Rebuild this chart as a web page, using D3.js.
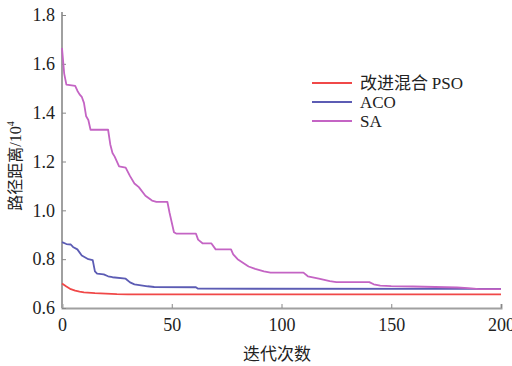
<!DOCTYPE html>
<html>
<head>
<meta charset="utf-8">
<script src="https://cdn.jsdelivr.net/npm/d3@7"></script>
<style>
  body { margin: 0; background: #fff; }
  svg text { font-family: "Liberation Serif", "Noto Sans CJK SC", serif; fill: #222; }
</style>
</head>
<body>
<div id="chart"></div>
<script>
// iteration -> path distance (x10^4), breakpoints
const psoData = [[0, 0.70], [2, 0.688], [4, 0.677], [6, 0.671], [8, 0.667], [10, 0.664], [15, 0.661], [20, 0.659], [25, 0.657], [30, 0.656], [200, 0.656]];
const acoData = [[0, 0.87], [2, 0.862], [4, 0.86], [5, 0.85], [7, 0.84], [9, 0.815], [10, 0.81], [12, 0.80], [14, 0.796], [15, 0.75], [16, 0.741], [19, 0.738], [21, 0.73], [23, 0.726], [29, 0.72], [31, 0.705], [33, 0.697], [36, 0.693], [39, 0.689], [42, 0.686], [61, 0.685], [62, 0.679], [200, 0.678]];
const saData = [[0, 1.665], [1, 1.56], [2, 1.515], [6, 1.51], [7, 1.49], [8, 1.475], [9, 1.465], [10, 1.44], [11, 1.385], [12, 1.37], [13, 1.33], [21, 1.33], [22, 1.27], [23, 1.235], [24, 1.22], [26, 1.18], [29, 1.175], [31, 1.14], [33, 1.11], [35, 1.095], [38, 1.06], [41, 1.04], [43, 1.035], [48, 1.035], [49, 0.99], [51, 0.91], [52, 0.905], [61, 0.905], [62, 0.88], [64, 0.865], [68, 0.865], [70, 0.84], [77, 0.84], [78, 0.82], [80, 0.80], [85, 0.77], [88, 0.76], [92, 0.75], [95, 0.745], [110, 0.745], [112, 0.73], [117, 0.72], [122, 0.71], [125, 0.706], [140, 0.706], [142, 0.697], [145, 0.692], [150, 0.69], [160, 0.688], [170, 0.686], [180, 0.684], [185, 0.681], [190, 0.677], [200, 0.677]];

const seriesNames = ["改进混合 PSO", "ACO", "SA"];
const seriesColors = ["#f04848", "#5c5cb4", "#c464c4"];
const xTicks = [0, 50, 100, 150, 200];
const yTicks = [0.6, 0.8, 1.0, 1.2, 1.4, 1.6, 1.8];

const width = 512, height = 366;
const margin = { top: 15, right: 11, bottom: 58, left: 62 };

const svg = d3.select("#chart").append("svg")
  .attr("width", width)
  .attr("height", height);

const x = d3.scaleLinear().domain([0, 200]).range([margin.left, width - margin.right]);
const y = d3.scaleLinear().domain([0.6, 1.8]).range([height - margin.bottom, margin.top]);

// axes, ticks point inward
const xAxis = d3.axisBottom(x).tickValues(xTicks).tickSize(-4).tickPadding(10).tickFormat(d3.format("d"));
const yAxis = d3.axisLeft(y).tickValues(yTicks).tickSize(-4).tickPadding(7).tickFormat(d3.format(".1f"));

const gx = svg.append("g")
  .attr("transform", `translate(0, ${height - margin.bottom})`)
  .call(xAxis);
const gy = svg.append("g")
  .attr("transform", `translate(${margin.left}, 0)`)
  .call(yAxis);

[gx, gy].forEach(g => {
  g.select(".domain").attr("stroke", "#a0a0a0").attr("stroke-width", 2);
  g.selectAll(".tick line").attr("stroke", "#888").attr("stroke-width", 1);
  g.selectAll(".tick text")
    .style("font-family", "Liberation Serif")
    .style("font-size", "18px")
    .attr("fill", "#222");
});
gy.select(".domain").attr("d", `M-0,${y(0.6)}V${margin.top - 3}`);

// lines
const line = d3.line().x(d => x(d[0])).y(d => y(d[1]));
[psoData, acoData, saData].forEach((data, i) => {
  svg.append("path")
    .datum(data)
    .attr("fill", "none")
    .attr("stroke", seriesColors[i])
    .attr("stroke-width", 1.8)
    .attr("stroke-linejoin", "round")
    .attr("d", line);
});

// axis titles
svg.append("text")
  .attr("x", 277)
  .attr("y", 360)
  .attr("text-anchor", "middle")
  .style("font-family", "Noto Sans CJK SC")
  .style("font-size", "17px")
  .text("迭代次数");

const yTitle = svg.append("text")
  .attr("transform", "translate(21, 166) rotate(-90)")
  .attr("text-anchor", "middle")
  .style("font-size", "16px");
yTitle.append("tspan").style("font-family", "Noto Sans CJK SC").text("路径距离");
yTitle.append("tspan").style("font-family", "Liberation Serif").text("/10");
yTitle.append("tspan").style("font-family", "Liberation Serif").style("font-size", "10px").attr("dy", -7).text("4");

// legend
const legend = svg.append("g").attr("transform", "translate(312, 83)");
seriesNames.forEach((name, i) => {
  const row = legend.append("g").attr("transform", `translate(0, ${i * 19})`);
  row.append("line")
    .attr("x1", 0).attr("x2", 40)
    .attr("stroke", seriesColors[i])
    .attr("stroke-width", 1.8);
  const t = row.append("text")
    .attr("x", 48)
    .attr("dy", "0.35em")
    .style("font-size", "17px");
  if (i === 0) {
    t.append("tspan").style("font-family", "Noto Sans CJK SC").text("改进混合 ");
    t.append("tspan").style("font-family", "Liberation Serif").text("PSO");
  } else {
    t.style("font-family", "Liberation Serif").text(name);
  }
});
</script>
</body>
</html>
